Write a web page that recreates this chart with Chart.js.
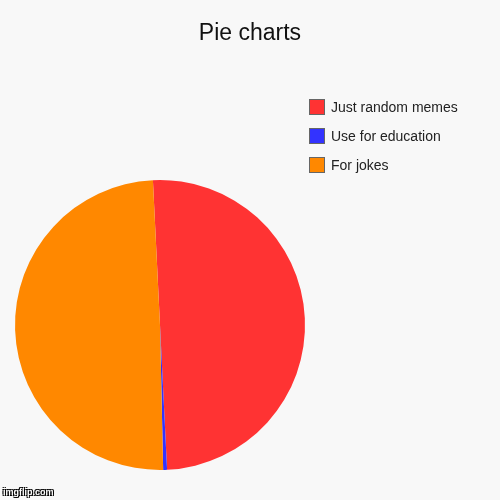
<!DOCTYPE html>
<html>
<head>
<meta charset="utf-8">
<script src="https://cdn.jsdelivr.net/npm/chart.js@4"></script>
<style>
    html, body { margin: 0; padding: 0; background: #f8f8f8; }
    #wrap { position: relative; width: 500px; height: 500px; font-family: "Liberation Sans", Arial, sans-serif; }
    #myChart { position: absolute; left: 0; top: 0; }
    #title { position: absolute; left: 0; top: 21px; width: 500px; text-align: center; font-size: 23px; line-height: 23px; color: #111; }
    .item { position: absolute; left: 309px; height: 16px; font-size: 14px; line-height: 17px; color: #222; white-space: nowrap; }
    .item span.box { display: inline-block; width: 14px; height: 14px; border: 1px solid #666; vertical-align: top; margin-right: 6px; }
    #mark { position: absolute; left: 3px; top: 487px; font-size: 9px; font-weight: bold; color: #fff;
            text-shadow: -1px -1px 0 #000, 1px -1px 0 #000, -1px 1px 0 #000, 1px 1px 0 #000; }
</style>
</head>
<body>
<div id="wrap">
    <canvas id="myChart" width="500" height="500"></canvas>
    <div id="title"></div>
    <div id="legend"></div>
    <div id="mark">imgflip.com</div>
</div>
<script>
const chartTitle = 'Pie charts';
const labels = ['Just random memes', 'Use for education', 'For jokes'];
const values = [116, 1, 115];
const colors = ['#ff3333', '#3333ff', '#ff8800'];

document.getElementById('title').textContent = chartTitle;

// legend drawn by hand, same order as the data
const legend = document.getElementById('legend');
labels.forEach((name, i) => {
    const row = document.createElement('div');
    row.className = 'item';
    row.style.top = (99 + i * 29.2) + 'px';
    const box = document.createElement('span');
    box.className = 'box';
    box.style.background = colors[i];
    row.appendChild(box);
    row.appendChild(document.createTextNode(name));
    legend.appendChild(row);
});

const ctx = document.getElementById('myChart').getContext('2d');
new Chart(ctx, {
    type: 'pie',
    data: {
        labels: labels,
        datasets: [{
            data: values,
            backgroundColor: colors,
            borderWidth: 0
        }]
    },
    options: {
        responsive: false,
        animation: false,
        rotation: -2.8,
        layout: {
            padding: { left: 15, right: 195, top: 180, bottom: 30 }
        },
        plugins: {
            legend: { display: false },
            tooltip: { enabled: false }
        }
    }
});
</script>
</body>
</html>
